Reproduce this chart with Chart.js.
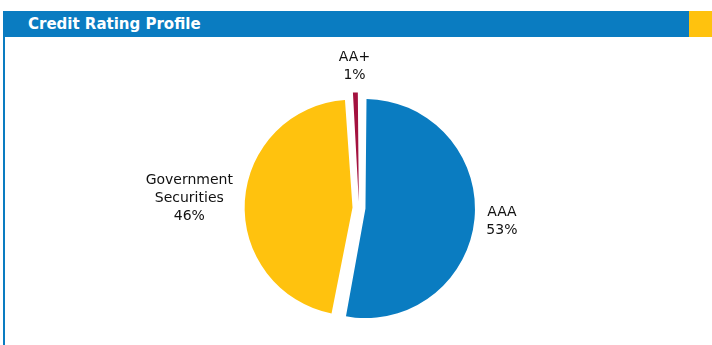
<!DOCTYPE html>
<html>
<head>
<meta charset="utf-8">
<script src="https://cdn.jsdelivr.net/npm/chart.js@4"></script>
<style>
  html, body { margin: 0; padding: 0; background: #fff; }
  body { width: 712px; height: 345px; position: relative; overflow: hidden; font-family: 'DejaVu Sans', sans-serif; }
  #header {
    position: absolute; left: 3px; top: 11px; width: 709px; height: 26px;
    background: #0a7cc1; color: #fff; font-weight: bold; font-size: 15px;
    line-height: 26px; box-sizing: border-box; padding-left: 25px;
  }
  #corner { position: absolute; right: 0; top: 0; width: 23px; height: 26px; background: #ffc20e; }
  #leftBar { position: absolute; left: 3px; top: 37px; width: 2px; height: 308px; background: #0a7cc1; }
  #wrap { position: absolute; left: 5px; top: 37px; width: 707px; height: 308px; }
</style>
</head>
<body>
<div id="header">Credit Rating Profile<div id="corner"></div></div>
<div id="leftBar"></div>
<div id="wrap"><canvas id="pie"></canvas></div>
<script>
// chart data
const categories = ['AAA', 'Government Securities', 'AA+'];
const shares = [53, 46, 1];
const sliceColors = ['#0a7cc1', '#ffc20e', '#a3123f'];

// draws "name / value%" outside each slice, like the original
const outsideLabels = {
  id: 'outsideLabels',
  afterDatasetsDraw(chart) {
    const ctx = chart.ctx;
    const meta = chart.getDatasetMeta(0);
    const lh = 18, cap = 10, gap = 12;
    ctx.save();
    ctx.font = '14px "DejaVu Sans"';
    ctx.fillStyle = '#111';
    ctx.textAlign = 'center';
    ctx.textBaseline = 'middle';
    meta.data.forEach((arc, i) => {
      const p = arc.getProps(['x', 'y', 'startAngle', 'endAngle', 'outerRadius', 'circumference'], true);
      const mid = (p.startAngle + p.endAngle) / 2;
      // chart.js moves a slice by offset/4 and grows it a little too
      const off = (arc.options.offset || 0) / 4;
      const grow = off * (1 - Math.sin(Math.min(Math.PI, p.circumference)));
      const r = p.outerRadius + grow;
      const cx = p.x + Math.cos(mid) * off;
      const cy = p.y + Math.sin(mid) * off;
      const lines = categories[i].split(' ').concat([shares[i] + '%']);
      const w = Math.max(...lines.map(t => ctx.measureText(t).width));
      const h = (lines.length - 1) * lh + cap;
      const ax = cx + Math.cos(mid) * (r + gap);
      const ay = cy + Math.sin(mid) * (r + gap);
      const bx = ax + Math.cos(mid) * w / 2;
      const by = ay + Math.sin(mid) * h / 2;
      lines.forEach((t, k) => {
        ctx.fillText(t, bx, by - h / 2 + cap / 2 + k * lh);
      });
    });
    ctx.restore();
  }
};

new Chart(document.getElementById('pie').getContext('2d'), {
  type: 'pie',
  data: {
    labels: categories,
    datasets: [{
      data: shares,
      backgroundColor: sliceColors,
      borderWidth: 0,
      offset: 26
    }]
  },
  options: {
    responsive: true,
    maintainAspectRatio: false,
    animation: false,
    radius: 103,
    layout: { padding: { left: 1, right: 0, top: 34, bottom: 0 } },
    plugins: {
      legend: { display: false },
      tooltip: { enabled: false }
    }
  },
  plugins: [outsideLabels]
});
</script>
</body>
</html>
